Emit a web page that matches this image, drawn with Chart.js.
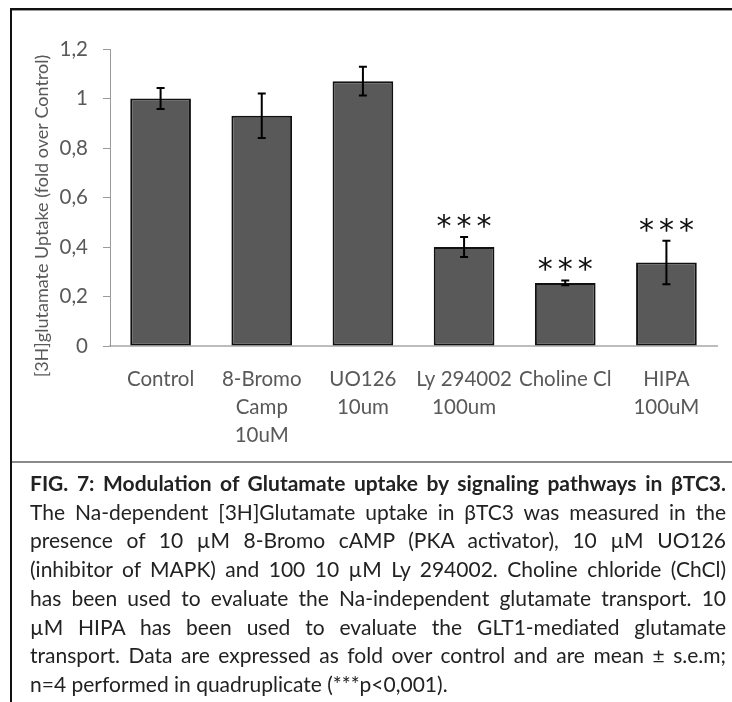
<!DOCTYPE html>
<html>
<head>
<meta charset="utf-8">
<script src="https://cdn.jsdelivr.net/npm/chart.js@4"></script>
<style>
  body { margin: 0; background: #fff; }
  #page { position: relative; width: 732px; height: 702px; overflow: hidden; background: #fff; }
  #chart { position: absolute; left: 0; top: 0; }
  .rule-top { position: absolute; left: 10px; top: 8px; width: 722px; height: 2px; background: #111; border-bottom: 1px solid #999; }
  .rule-left { position: absolute; left: 10px; top: 8px; width: 2px; height: 694px; background: #111; }
  .rule-mid { position: absolute; left: 12px; top: 461px; width: 720px; height: 2px; background: #8a8a8a; }
  #caption { position: absolute; left: 30px; top: 469px; width: 696px; font-family: Lato, "Open Sans", sans-serif; font-size: 21px; line-height: 28.7px; color: #222; }
  #caption div { white-space: nowrap; }
  #caption .j { text-align: justify; text-align-last: justify; white-space: normal; }
  #caption .b { font-weight: bold; }
</style>
</head>
<body>
<div id="page">
  <canvas id="chart" width="732" height="462"></canvas>
  <div class="rule-top"></div>
  <div class="rule-left"></div>
  <div class="rule-mid"></div>
  <div id="caption">
    <div class="j b">FIG. 7: Modulation of Glutamate uptake by signaling pathways in βTC3.</div>
    <div class="j">The Na-dependent [3H]Glutamate uptake in βTC3 was measured in the</div>
    <div class="j">presence of 10 µM 8-Bromo cAMP (PKA activator), 10 µM UO126</div>
    <div class="j">(inhibitor of MAPK) and 100 10 µM Ly 294002. Choline chloride (ChCl)</div>
    <div class="j">has been used to evaluate the Na-independent glutamate transport. 10</div>
    <div class="j">µM HIPA has been used to evaluate the GLT1-mediated glutamate</div>
    <div class="j">transport. Data are expressed as fold over control and are mean ± s.e.m;</div>
    <div>n=4 performed in quadruplicate (***p&lt;0,001).</div>
  </div>
</div>

<script>
// data
const categories = [
  ["Control"],
  ["8-Bromo", "Camp", "10uM"],
  ["UO126", "10um"],
  ["Ly 294002", "100um"],
  ["Choline Cl"],
  ["HIPA", "100uM"]
];
const uptake = [1.0, 0.93, 1.07, 0.40, 0.255, 0.337];
const sem = [0.042, 0.09, 0.058, 0.04, 0.01, 0.088];
const signif = ["", "", "", "***", "***", "***"];
const yTicks = ["0", "0,2", "0,4", "0,6", "0,8", "1", "1,2"];
const yTitle = "[3H]glutamate Uptake (fold over Control)";

const FONT = "Lato, 'Open Sans', sans-serif";
const GREY = "#595959";

// error bars + significance stars
const extrasPlugin = {
  id: "extras",
  afterDatasetsDraw(chart) {
    const ctx = chart.ctx;
    const y = chart.scales.y;
    const bars = chart.getDatasetMeta(0).data;
    ctx.save();
    bars.forEach((bar, i) => {
      const top = y.getPixelForValue(uptake[i] + sem[i]);
      const bot = y.getPixelForValue(uptake[i] - sem[i]);
      ctx.strokeStyle = "#000";
      ctx.lineWidth = 2;
      ctx.beginPath();
      ctx.moveTo(bar.x, top);
      ctx.lineTo(bar.x, bot);
      ctx.moveTo(bar.x - 4, top);
      ctx.lineTo(bar.x + 4, top);
      ctx.moveTo(bar.x - 4, bot);
      ctx.lineTo(bar.x + 4, bot);
      ctx.stroke();

      if (signif[i]) {
        ctx.font = "30px 'DejaVu Sans', sans-serif";
        ctx.fillStyle = "#111";
        ctx.textAlign = "center";
        ctx.textBaseline = "alphabetic";
        const m = ctx.measureText("*");
        const cy = top - 16;
        const base = cy + (m.actualBoundingBoxAscent - m.actualBoundingBoxDescent) / 2;
        for (let k = 0; k < signif[i].length; k++) {
          ctx.fillText("*", bar.x + (k - 1) * 20, base);
        }
      }
    });

    // y axis title
    ctx.translate(42, 216);
    ctx.rotate(-Math.PI / 2);
    ctx.font = "18px " + FONT;
    ctx.fillStyle = GREY;
    ctx.textAlign = "center";
    ctx.textBaseline = "middle";
    ctx.fillText(yTitle, 0, 0);
    ctx.restore();
  }
};

new Chart(document.getElementById("chart"), {
  type: "bar",
  data: {
    labels: categories,
    datasets: [{
      data: uptake,
      backgroundColor: "#595959",
      borderColor: "#111",
      borderWidth: 2,
      borderSkipped: false,
      categoryPercentage: 1,
      barPercentage: 0.6
    }]
  },
  options: {
    responsive: false,
    animation: false,
    layout: { padding: { left: 0, right: 15, top: 49, bottom: 0 } },
    plugins: {
      legend: { display: false },
      tooltip: { enabled: false }
    },
    scales: {
      x: {
        afterFit: s => { s.height = 116; },
        grid: { display: false },
        border: { color: "#bdbdbd", width: 2 },
        ticks: {
          color: GREY,
          font: { family: FONT, size: 20.5, lineHeight: 1.38 },
          padding: 11,
          maxRotation: 0,
          autoSkip: false
        }
      },
      y: {
        min: 0,
        max: 1.2,
        afterFit: s => { s.width = 110; },
        grid: { drawOnChartArea: false, drawTicks: true, tickLength: 7, color: "#9a9a9a", lineWidth: 1 },
        border: { color: "#9a9a9a", width: 1 },
        ticks: {
          stepSize: 0.2,
          color: GREY,
          font: { family: FONT, size: 20.5 },
          padding: 15,
          callback: (v, i) => yTicks[i]
        }
      }
    }
  },
  plugins: [extrasPlugin]
});
</script>
</body>
</html>
